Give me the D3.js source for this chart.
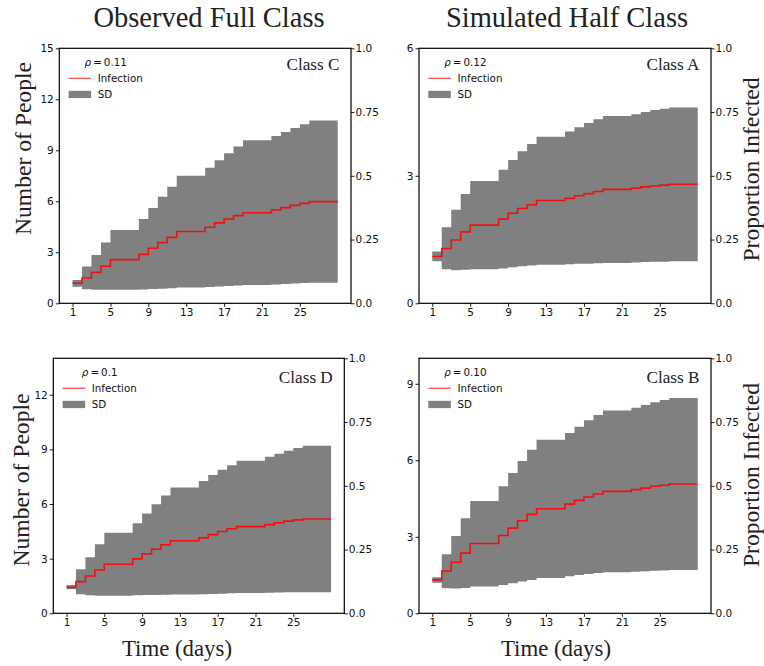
<!DOCTYPE html>
<html><head><meta charset="utf-8">
<script src="https://cdn.jsdelivr.net/npm/d3@7"></script>
<style>html,body{margin:0;padding:0;background:#fff;} svg{display:block;}</style>
</head><body>
<svg id="chart" width="764" height="666"></svg>
<script>
// ---------- DATA ----------
const days = [1,2,3,4,5,6,7,8,9,10,11,12,13,14,15,16,17,18,19,20,21,22,23,24,25,26,27,28,29];
const xTickValues = [1,5,9,13,17,21,25];
const rightTickValues = [0,0.25,0.5,0.75,1.0];
const rightTickLabels = ["0.0","0.25","0.5","0.75","1.0"];

const columnTitles = ["Observed Full Class","Simulated Half Class"];
const classNames = ["Class C","Class A","Class D","Class B"];
const rhoValues = ["0.11","0.12","0.1","0.10"];
const yMaxValues = [15,6,14,10];
const yTicksC = [0,3,6,9,12,15];
const yTicksA = [0,3,6];
const yTicksD = [0,3,6,9,12];
const yTicksB = [0,3,6,9];

const meanC  = [1.18,1.49,1.82,2.18,2.57,2.57,2.57,2.88,3.24,3.57,3.88,4.22,4.22,4.22,4.47,4.73,4.96,5.16,5.33,5.33,5.33,5.49,5.63,5.76,5.88,5.98,5.98,5.98,5.98];
const upperC = [1.37,2.16,2.84,3.57,4.31,4.31,4.31,4.96,5.61,6.27,6.86,7.51,7.51,7.51,7.98,8.41,8.82,9.22,9.59,9.59,9.59,9.84,10.08,10.31,10.53,10.75,10.75,10.75,10.75];
const lowerC = [0.98,0.82,0.79,0.79,0.80,0.80,0.80,0.81,0.84,0.86,0.89,0.93,0.93,0.93,0.96,0.99,1.02,1.05,1.08,1.08,1.08,1.11,1.14,1.17,1.19,1.21,1.21,1.21,1.21];

const meanA  = [1.10,1.29,1.49,1.68,1.84,1.84,1.84,1.98,2.12,2.23,2.32,2.42,2.42,2.42,2.47,2.53,2.58,2.63,2.68,2.68,2.68,2.71,2.74,2.76,2.78,2.80,2.80,2.80,2.80];
const upperA = [1.22,1.79,2.20,2.57,2.88,2.88,2.88,3.14,3.37,3.58,3.75,3.92,3.92,3.92,4.04,4.14,4.24,4.33,4.41,4.41,4.41,4.45,4.50,4.55,4.58,4.61,4.61,4.61,4.61];
const lowerA = [0.99,0.80,0.78,0.79,0.80,0.80,0.80,0.82,0.85,0.87,0.89,0.91,0.91,0.91,0.92,0.93,0.93,0.94,0.95,0.95,0.95,0.96,0.97,0.98,0.98,0.99,0.99,0.99,0.99];

const meanD  = [1.43,1.74,2.05,2.38,2.69,2.69,2.69,2.99,3.26,3.52,3.76,3.98,3.98,3.98,4.14,4.32,4.49,4.64,4.76,4.76,4.76,4.87,4.97,5.06,5.13,5.18,5.18,5.18,5.18];
const upperD = [1.56,2.42,3.08,3.79,4.42,4.42,4.42,4.95,5.48,5.99,6.47,6.91,6.91,6.91,7.26,7.59,7.88,8.13,8.37,8.37,8.37,8.59,8.76,8.92,9.07,9.20,9.20,9.20,9.20];
const lowerD = [1.32,1.05,0.99,0.97,0.97,0.97,0.97,0.99,1.00,1.01,1.02,1.03,1.03,1.03,1.04,1.06,1.08,1.10,1.12,1.12,1.12,1.13,1.14,1.15,1.15,1.16,1.16,1.16,1.16];

const meanB  = [1.31,1.66,2.00,2.36,2.74,2.74,2.74,3.05,3.34,3.63,3.88,4.10,4.10,4.10,4.28,4.43,4.56,4.68,4.78,4.78,4.78,4.85,4.91,4.98,5.02,5.07,5.07,5.07,5.07];
const upperB = [1.41,2.32,3.03,3.73,4.40,4.40,4.40,4.98,5.50,5.97,6.41,6.81,6.81,6.81,7.07,7.32,7.57,7.78,7.95,7.95,7.95,8.06,8.17,8.28,8.36,8.44,8.44,8.44,8.44];
const lowerB = [1.20,0.98,0.97,0.99,1.05,1.05,1.05,1.11,1.18,1.25,1.31,1.38,1.38,1.38,1.45,1.50,1.54,1.58,1.61,1.61,1.61,1.63,1.65,1.67,1.68,1.70,1.70,1.70,1.70];

// ---------- LAYOUT ----------
const SERIF = "'Liberation Serif','Times New Roman',serif";
const SANS = "'DejaVu Sans',sans-serif";
const frames = [
  {x0:59.3, x1:351,   y0:48.3,  y1:303.3, classDy:22},
  {x0:419,  x1:711,   y0:48.3,  y1:303.3, classDy:22},
  {x0:53.3, x1:344.3, y0:358.3, y1:613.3, classDy:24.5},
  {x0:419,  x1:711,   y0:358.3, y1:613.3, classDy:24.5}
];
const panelData = [
  {mean:meanC, upper:upperC, lower:lowerC, ticks:yTicksC},
  {mean:meanA, upper:upperA, lower:lowerA, ticks:yTicksA},
  {mean:meanD, upper:upperD, lower:lowerD, ticks:yTicksD},
  {mean:meanB, upper:upperB, lower:lowerB, ticks:yTicksB}
];

const svg = d3.select("#chart");
svg.append("rect").attr("width",764).attr("height",666).attr("fill","#fff");

panelData.forEach((p, i) => {
  const f = frames[i];
  const g = svg.append("g");
  const x = d3.scaleLinear().domain([-0.4, 30.4]).range([f.x0, f.x1]);
  const y = d3.scaleLinear().domain([0, yMaxValues[i]]).range([f.y1, f.y0]);
  const yR = d3.scaleLinear().domain([0, 1]).range([f.y1, f.y0]);
  const rows = days.map((d, k) => ({day:d, m:p.mean[k], hi:p.upper[k], lo:p.lower[k]}));

  const area = d3.area().curve(d3.curveStepAfter)
    .x(d => x(d.day)).y0(d => y(d.lo)).y1(d => y(d.hi));
  const line = d3.line().curve(d3.curveStepAfter)
    .x(d => x(d.day)).y(d => y(d.m));

  g.append("path").datum(rows).attr("d", area).attr("fill", "#808080");
  g.append("path").datum(rows).attr("d", line).attr("fill", "none")
    .attr("stroke", "#f01010").attr("stroke-width", 1.6);

  // axes
  const styleAxis = sel => {
    sel.select(".domain").remove();
    sel.selectAll(".tick line").attr("stroke", "#000").attr("stroke-width", 0.9);
    sel.selectAll(".tick text").attr("fill", "#111").style("font-family", SANS).style("font-size", "10.5px");
  };
  g.append("g").attr("transform", `translate(${f.x0},0)`)
    .call(d3.axisLeft(y).tickValues(p.ticks).tickFormat(d3.format("d")).tickSize(3.5).tickPadding(2))
    .call(styleAxis);
  g.append("g").attr("transform", `translate(${f.x1},0)`)
    .call(d3.axisRight(yR).tickValues(rightTickValues).tickFormat((d, k) => rightTickLabels[k]).tickSize(3.5).tickPadding(1))
    .call(styleAxis);
  g.append("g").attr("transform", `translate(0,${f.y1})`)
    .call(d3.axisBottom(x).tickValues(xTickValues).tickFormat(d3.format("d")).tickSize(3.5).tickPadding(1.5))
    .call(styleAxis);

  // frame
  g.append("rect").attr("x", f.x0).attr("y", f.y0)
    .attr("width", f.x1 - f.x0).attr("height", f.y1 - f.y0)
    .attr("fill", "none").attr("stroke", "#000").attr("stroke-width", 1.2);

  // class label
  g.append("text").attr("x", f.x1 - 11.5).attr("y", f.y0 + f.classDy)
    .attr("text-anchor", "end").style("font-family", SERIF).style("font-size", "17.2px")
    .attr("fill", "#222").text(classNames[i]);

  // legend
  const lx = f.x0 + 9.3;
  const tx = f.x0 + 38.5;
  g.append("line").attr("x1", lx).attr("x2", lx + 22.5)
    .attr("y1", f.y0 + 30).attr("y2", f.y0 + 30)
    .attr("stroke", "#ff4d4d").attr("stroke-width", 1.3);
  const inf = g.append("text").attr("x", tx).attr("y", f.y0 + 33.6)
    .style("font-family", SANS).style("font-size", "10.3px").attr("fill", "#111").text("Infection");
  g.append("rect").attr("x", lx).attr("y", f.y0 + 42.5).attr("width", 22.5).attr("height", 7.3)
    .attr("fill", "#808080");
  g.append("text").attr("x", tx).attr("y", f.y0 + 49.2)
    .style("font-family", SANS).style("font-size", "10.3px").attr("fill", "#111").text("SD");
  const infW = inf.node().getComputedTextLength();
  const cx = (lx + tx + infW) / 2;
  const rho = g.append("text").attr("x", cx).attr("y", f.y0 + 17.4).attr("text-anchor", "middle")
    .style("font-family", SANS).style("font-size", "10.3px").attr("fill", "#111");
  rho.append("tspan").style("font-style", "italic").text("ρ");
  rho.append("tspan").text("\u2009=\u2009" + rhoValues[i]);
});

// column titles
svg.append("text").attr("x", 209).attr("y", 27).attr("text-anchor", "middle")
  .style("font-family", SERIF).style("font-size", "28.5px").attr("fill", "#222").text(columnTitles[0]);
svg.append("text").attr("x", 567).attr("y", 27).attr("text-anchor", "middle")
  .style("font-family", SERIF).style("font-size", "28.5px").attr("fill", "#222").text(columnTitles[1]);

// y labels
const yLab = (txt, bx, cy) => svg.append("text")
  .attr("transform", `translate(${bx},${cy}) rotate(-90)`).attr("text-anchor", "middle")
  .style("font-family", SERIF).style("font-size", "23.6px").attr("fill", "#222").text(txt);
yLab("Number of People", 30.5, 148.5);
yLab("Number of People", 29.3, 480);
yLab("Proportion Infected", 759.3, 169.5);
yLab("Proportion Infected", 759.3, 475);

// x labels
svg.append("text").attr("x", 177).attr("y", 655.5).attr("text-anchor", "middle")
  .style("font-family", SERIF).style("font-size", "22.8px").attr("fill", "#222").text("Time (days)");
svg.append("text").attr("x", 556).attr("y", 655.5).attr("text-anchor", "middle")
  .style("font-family", SERIF).style("font-size", "22.8px").attr("fill", "#222").text("Time (days)");
</script>
</body></html>
